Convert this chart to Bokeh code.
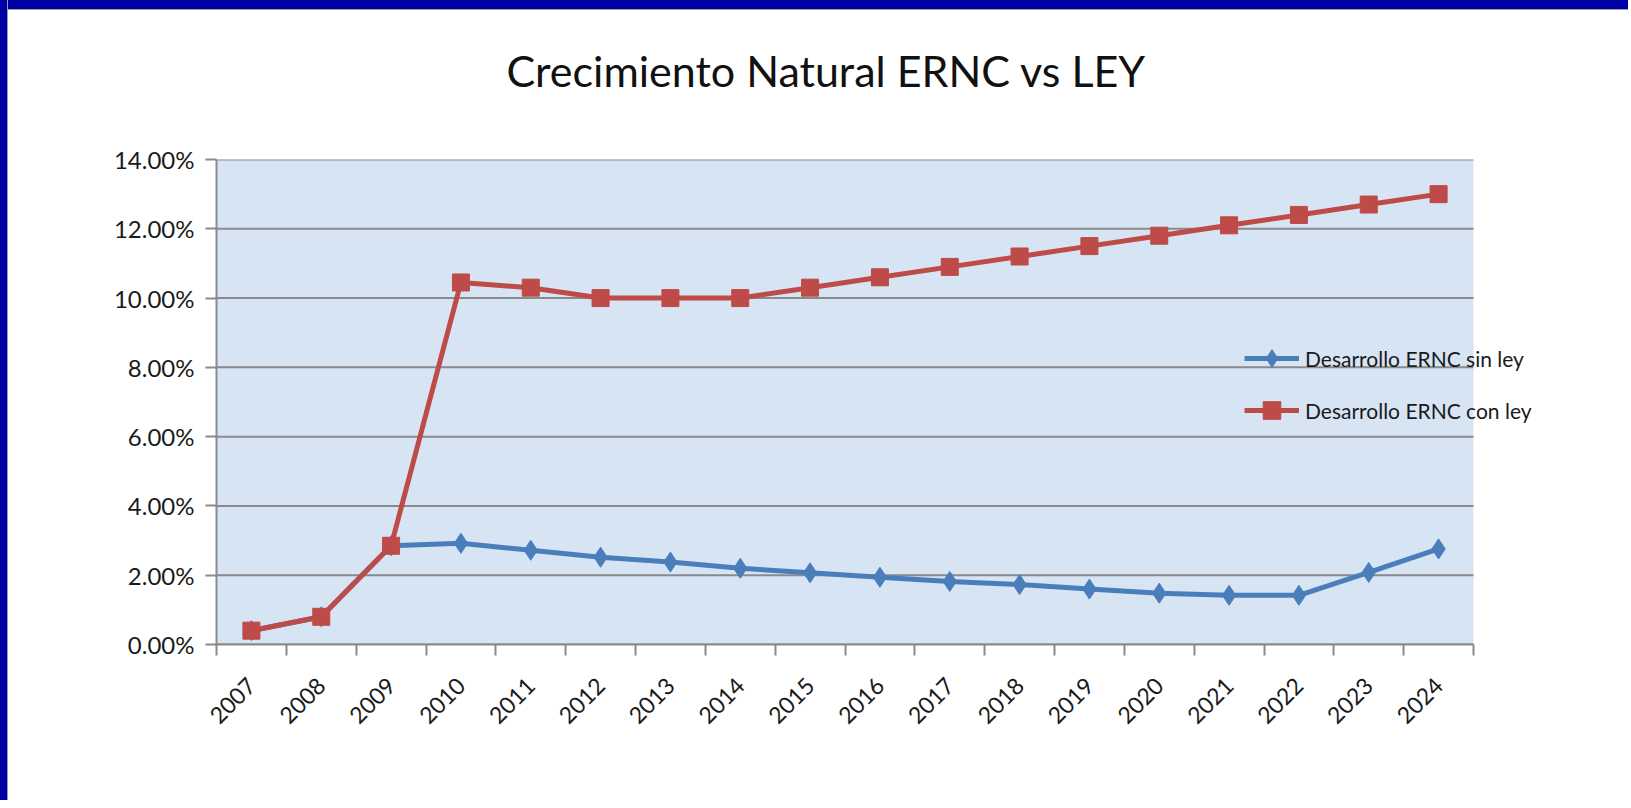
import math
from bokeh.plotting import figure
from bokeh.models import (Range1d, FixedTicker, NumeralTickFormatter, Legend,
                          LegendItem, ColumnDataSource, BoxAnnotation)
from bokeh.embed import file_html
from bokeh.resources import INLINE

# ---------------- data ----------------
years = ["2007", "2008", "2009", "2010", "2011", "2012", "2013", "2014", "2015",
         "2016", "2017", "2018", "2019", "2020", "2021", "2022", "2023", "2024"]
sin_ley = [0.40, 0.80, 2.85, 2.92, 2.72, 2.52, 2.38, 2.20, 2.07, 1.94, 1.82,
           1.73, 1.60, 1.48, 1.42, 1.42, 2.08, 2.76]          # percent
con_ley = [0.40, 0.80, 2.85, 10.45, 10.30, 10.00, 10.00, 10.00, 10.30, 10.60,
           10.90, 11.20, 11.50, 11.80, 12.10, 12.40, 12.70, 13.00]  # percent
y_ticks = [0.00, 0.02, 0.04, 0.06, 0.08, 0.10, 0.12, 0.14]
series_names = ["Desarrollo ERNC sin ley", "Desarrollo ERNC con ley"]
title_text = "Crecimiento Natural ERNC vs LEY"

# ---------------- styles ----------------
BLUE = "#4a7ebb"
RED = "#be4b48"
GRID = "#8a8a8a"
PLOT_BG = "#d6e4f4"
FRAME_BLUE = "#0000A8"
FONT = "Lato"

n = len(years)
x_pos = [i + 0.5 for i in range(n)]
src = ColumnDataSource(dict(
    x=x_pos,
    sin=[v / 100 for v in sin_ley],
    con=[v / 100 for v in con_ley],
))

# layout geometry (px); the canvas is shifted up by K px so the title has room
K = 30
BL, BT = 7, 9                 # blue frame of the slide (left, top)
FIG_W, FIG_H = 1628, 800 + K
MB_LEFT, MB_TOP, MB_BOTTOM = 216, 159 + K, 156
PLOT_W = 1257                 # width of the category area
EXTRA_W = 107                 # room to the right of the plot area for the legend
x_end = n * (PLOT_W + EXTRA_W) / PLOT_W
MB_RIGHT = FIG_W - MB_LEFT - PLOT_W - EXTRA_W

p = figure(width=FIG_W, height=FIG_H, output_backend="svg",
           toolbar_location=None,
           x_range=Range1d(0, x_end), y_range=Range1d(0, y_ticks[-1]),
           min_border_left=MB_LEFT, min_border_right=MB_RIGHT,
           min_border_top=MB_TOP, min_border_bottom=MB_BOTTOM)
p.styles = {
    "margin-left": "0px",
    "margin-top": f"-{K}px",
    "background": (
        f"linear-gradient(to right, {FRAME_BLUE} 0px, {FRAME_BLUE} {BL}px, "
        f"#a0a0a0 {BL}px, #a0a0a0 {BL + 1}px, transparent {BL + 1}px), "
        f"linear-gradient(to bottom, white 0px, white {K}px, {FRAME_BLUE} {K}px, "
        f"{FRAME_BLUE} {K + BT}px, #a0a0a0 {K + BT}px, #a0a0a0 {K + BT + 1}px, "
        f"white {K + BT + 1}px)"
    ),
}

p.title.text = title_text
p.title.align = "left"
p.title.offset = 290
p.title.vertical_align = "top"
p.title.text_font = FONT
p.title.text_font_style = "normal"
p.title.text_font_size = "43px"
p.title.text_color = "#111111"
p.title.standoff = 124

p.background_fill_color = "white"
p.border_fill_alpha = 0
p.outline_line_color = None

# plot-area background
p.add_layout(BoxAnnotation(left=0, right=n, bottom=0, top=y_ticks[-1],
                           fill_color=PLOT_BG, fill_alpha=1, line_color=None,
                           level="image"))

# horizontal grid lines limited to the plot area
p.xgrid.visible = False
p.ygrid.visible = False
p.segment(x0=[0] * len(y_ticks), x1=[n] * len(y_ticks), y0=y_ticks, y1=y_ticks,
          line_color=GRID, line_width=2)

# y axis
p.yaxis.ticker = FixedTicker(ticks=y_ticks)
p.yaxis.formatter = NumeralTickFormatter(format="0.00%")
p.yaxis.axis_line_color = GRID
p.yaxis.axis_line_width = 2
p.yaxis.major_tick_line_color = GRID
p.yaxis.major_tick_line_width = 2
p.yaxis.major_tick_out = 11
p.yaxis.major_tick_in = 0
p.yaxis.minor_tick_line_color = None
p.yaxis.major_label_standoff = 11
p.yaxis.major_label_text_font = FONT
p.yaxis.major_label_text_font_size = "24px"
p.yaxis.major_label_text_color = "#1a1a1a"

# x axis: labels at category centres, ticks at category boundaries
p.xaxis.bounds = (0, n)
p.xaxis.ticker = FixedTicker(ticks=x_pos, minor_ticks=list(range(n + 1)))
p.xaxis.major_label_overrides = {xv: yr for xv, yr in zip(x_pos, years)}
p.xaxis.axis_line_color = GRID
p.xaxis.axis_line_width = 2
p.xaxis.major_tick_line_color = None
p.xaxis.major_tick_out = 0
p.xaxis.major_tick_in = 0
p.xaxis.minor_tick_line_color = GRID
p.xaxis.minor_tick_line_width = 2
p.xaxis.minor_tick_out = 11
p.xaxis.minor_tick_in = 0
p.xaxis.major_label_orientation = math.pi / 4
p.xaxis.major_label_standoff = 26
p.xaxis.major_label_text_font = FONT
p.xaxis.major_label_text_font_size = "23px"
p.xaxis.major_label_text_color = "#1a1a1a"

# series
l1 = p.line("x", "sin", source=src, line_color=BLUE, line_width=5)
s1 = p.scatter("x", "sin", source=src, marker="diamond", size=20,
               fill_color=BLUE, line_color=BLUE)
l2 = p.line("x", "con", source=src, line_color=RED, line_width=5)
s2 = p.scatter("x", "con", source=src, marker="square", size=17,
               fill_color=RED, line_color=RED)

legend = Legend(items=[LegendItem(label=series_names[0], renderers=[l1, s1]),
                       LegendItem(label=series_names[1], renderers=[l2, s2])],
                location=(1028, 212), orientation="vertical",
                glyph_width=55, glyph_height=44, label_height=20,
                spacing=8, padding=0, margin=0, label_standoff=6,
                border_line_color=None, background_fill_alpha=0,
                label_text_font=FONT, label_text_font_size="21px",
                label_text_color="#1a1a1a")
p.add_layout(legend, "center")

open("out.html", "w").write(file_html(p, INLINE))
